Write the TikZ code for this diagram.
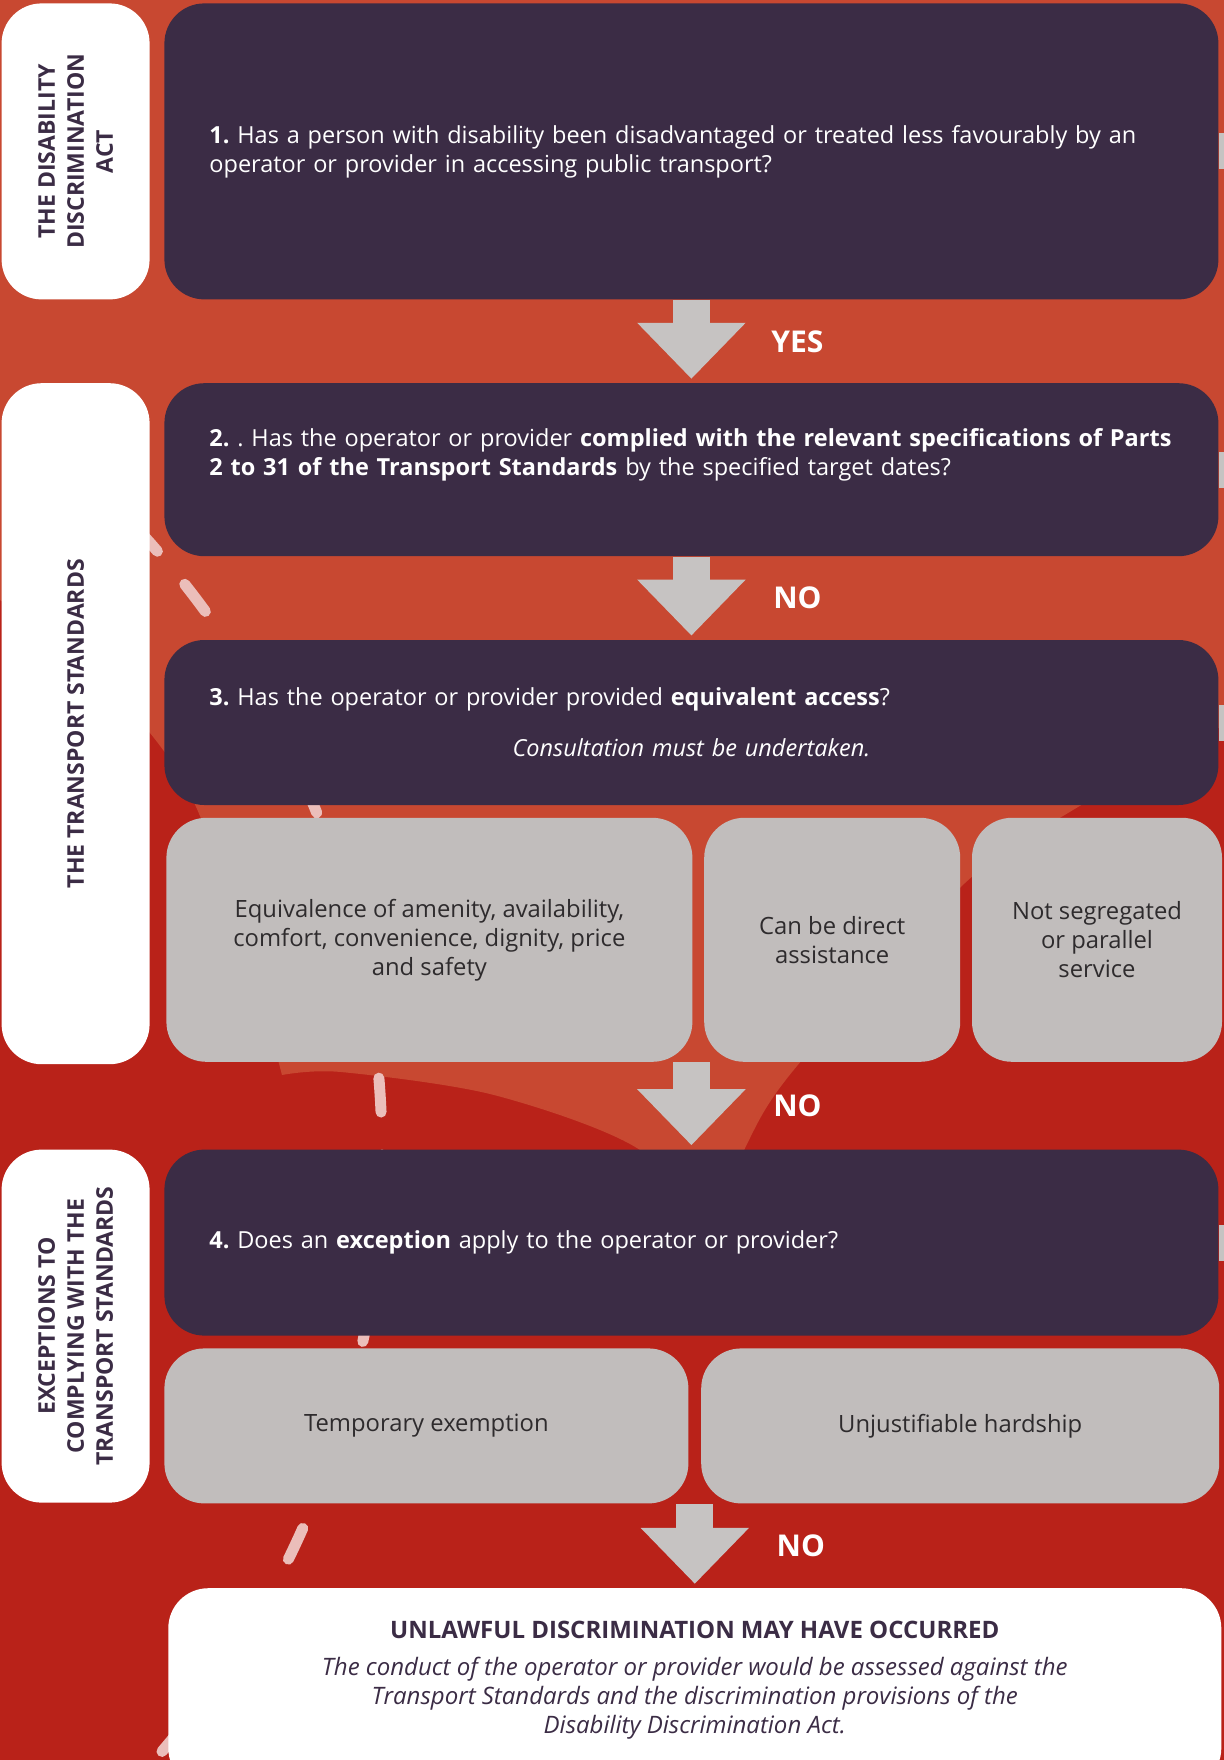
\documentclass[tikz,border=0pt]{standalone}
\usepackage{fontspec}
\setmainfont{Open Sans}
\frenchspacing
\usetikzlibrary{positioning,calc,arrows.meta}
\definecolor{bgorange}{HTML}{C84831}
\definecolor{bgred}{HTML}{B92219}
\definecolor{boxpurple}{HTML}{3B2C45}
\definecolor{boxgray}{HTML}{C1BDBC}
\definecolor{arrowgray}{HTML}{C6C3C2}
\definecolor{dashpink}{HTML}{EBBEBA}
\definecolor{graytext}{HTML}{2E2B2D}
\tikzstyle{question} = [rectangle, fill=boxpurple, text=white, rounded corners=20pt,
    text width=482pt, inner xsep=22.5pt, align=left, font=\fontsize{11.75}{14.5}\selectfont]
\tikzstyle{option} = [rectangle, fill=boxgray, text=graytext, rounded corners=20pt,
    align=center, font=\fontsize{11.9}{14.5}\selectfont]
\tikzstyle{side} = [rectangle, fill=white, rounded corners=20pt, minimum width=74pt]
\tikzstyle{sidetext} = [rotate=90, align=center, text=boxpurple,
    font=\bfseries\fontsize{11.5}{14.5}\selectfont]
\tikzstyle{outcome} = [rectangle, fill=white, text=boxpurple, rounded corners=20pt,
    minimum width=526.5pt, minimum height=100pt, align=center,
    font=\fontsize{12}{14.5}\selectfont]
\tikzstyle{flow} = [draw=arrowgray, line width=18.5pt, shorten >=2pt,
    -{Triangle[width=52.5pt,length=28pt]}]
\tikzstyle{answer} = [text=white, xshift=53pt, font=\bfseries\fontsize{15}{18}\selectfont]
\tikzstyle{ring} = [dashpink, line width=5.5pt, line cap=round,
    dash pattern=on 17pt off 21.45pt, dash phase=22.3pt]

\begin{document}
\begin{tikzpicture}[x=0.5pt, y=-0.5pt]
			\clip (0,0) rectangle (1224,1760);
			% Background
			\fill[bgred] (0,0) rectangle (1224,1760);
			\fill[bgorange] (0,0) -- (1224,0) -- (1224,700)
			  -- plot[smooth] coordinates {(1224,725) (1073,810) (965,883) (797,1066) (747,1144) (710,1240)}
			  -- plot[smooth] coordinates {(710,1240) (640,1150) (494,1095) (341,1072) (282,1075)}
			  -- plot[smooth] coordinates {(282,1075) (250,960) (197,809) (150,733) (60,640)}
			  -- (0,600) -- cycle;
			\draw[ring] (-539,1154) ++(-45:921) arc[start angle=-45, end angle=45, radius=921];
			% Place nodes
			\node [question, minimum height=148pt, anchor=north west] (b1) at (164,3)
			  {\mbox{\textbf{1.} Has a person with disability been disadvantaged or treated less favourably by an}\\
			   \mbox{operator or provider in accessing public transport?}};
			\node [question, minimum height=86.5pt, below=41.5pt of b1] (b2)
			  {\mbox{\textbf{2.} . Has the operator or provider \textbf{complied with the relevant specifications of Parts}}\\
			   \mbox{\textbf{2 to 31 of the Transport Standards} by the specified target dates?}\rule[-18pt]{0pt}{18pt}};
			\node [question, minimum height=82.5pt, below=41.5pt of b2] (b3)
			  {\mbox{\textbf{3.} Has the operator or provider provided \textbf{equivalent access}?}\\[11pt]
			   \makebox[482pt][c]{\itshape Consultation must be undertaken.}};
			\node [option, minimum width=263pt, minimum height=122pt, below right=6pt and 1pt of b3.south west] (g1)
			  {Equivalence of amenity, availability,\\ comfort, convenience, dignity, price\\ and safety};
			\node [option, minimum width=128pt, minimum height=122pt, right=5.5pt of g1] (g2)
			  {Can be direct\\ assistance};
			\node [option, minimum width=125pt, minimum height=122pt, right=5.5pt of g2] (g3)
			  {Not segregated\\ or parallel\\ service};
			\coordinate (rowend) at (b3.south |- g1.south);
			\node [question, minimum height=93pt, anchor=north] (b4) at ([yshift=-43.5pt]rowend)
			  {\mbox{\textbf{4.} Does an \textbf{exception} apply to the operator or provider?}};
			\node [option, minimum width=262pt, minimum height=77.5pt, below right=6pt and 0pt of b4.south west] (h1)
			  {Temporary exemption};
			\node [option, minimum width=259pt, minimum height=77.5pt, right=6pt of h1] (h2)
			  {Unjustifiable hardship};
			\coordinate (split) at ($(h1.south east)!0.5!(h2.south west)$);
			\node [outcome, anchor=north] (fin) at ([yshift=-42pt]split)
			  {\textbf{UNLAWFUL DISCRIMINATION MAY HAVE OCCURRED}\\[4pt]
			   \itshape The conduct of the operator or provider would be assessed against the\\
			   \itshape Transport Standards and the discrimination provisions of the\\
			   \itshape Disability Discrimination Act.\rule[-11pt]{0pt}{11pt}};
			% Side tabs
			\node [side, minimum height=148pt, left=7pt of b1] (t1) {};
			\node [side, minimum height=340.5pt, anchor=north east] (t2) at ([xshift=-7pt]b2.north west) {};
			\node [side, minimum height=176.5pt, anchor=north east] (t3) at ([xshift=-7pt]b4.north west) {};
			\node [sidetext] (t1label) at (t1) {THE DISABILITY\\ DISCRIMINATION\\ ACT};
			\node [sidetext] (t2label) at (t2) {THE TRANSPORT STANDARDS};
			\node [sidetext] (t3label) at (t3) {EXCEPTIONS TO\\ COMPLYING WITH THE\\ TRANSPORT STANDARDS};
			% Draw edges
			\path [flow] (b1.south) -- node [answer] {YES} (b2.north);
			\path [flow] (b2.south) -- node [answer] {NO} (b3.north);
			\path [flow] (rowend) -- node [answer] {NO} (b4.north);
			\path [flow] (split) -- node [answer] {NO} (split |- fin.north);
			% Edge tabs
			\foreach \b in {b1,b2,b3,b4}
			  \fill[arrowgray] ($(\b.east)+(0,-18)$) rectangle ++(12,36);
	\end{tikzpicture}
\end{document}
